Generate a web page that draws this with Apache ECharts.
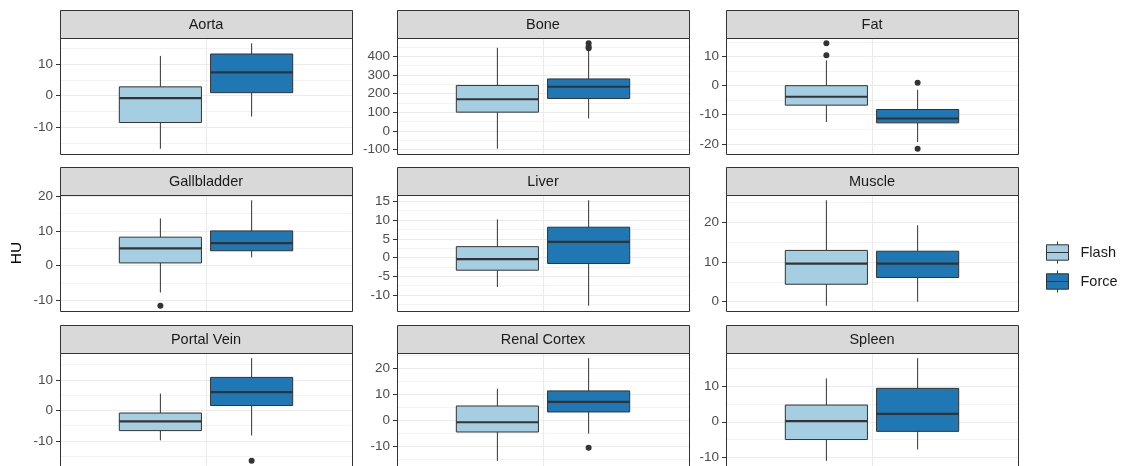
<!DOCTYPE html>
<html><head><meta charset="utf-8">
<script src="https://cdn.jsdelivr.net/npm/echarts@6/dist/echarts.min.js"></script>
<style>html,body{margin:0;padding:0;background:#fff}#chart{width:1124px;height:466px}</style>
</head><body><div id="chart"></div>
<script>
// ---------- data ----------
const panels = ['Aorta', 'Bone', 'Fat', 'Gallbladder', 'Liver', 'Muscle', 'Portal Vein', 'Renal Cortex', 'Spleen'];
const groups = ['Flash', 'Force'];
// [lower whisker, Q1, median, Q3, upper whisker]
const flashStats = [
  [-16.8, -8.5, -0.8, 2.8, 12.6],
  [-95, 101, 170, 244, 446],
  [-12.5, -6.7, -3.8, 0.0, 8.7],
  [-7.7, 0.8, 5.0, 8.2, 13.6],
  [-7.9, -3.4, -0.45, 2.9, 10.2],
  [-1.0, 4.4, 9.6, 12.9, 25.5],
  [-9.8, -6.6, -3.6, -0.85, 5.5],
  [-15.6, -4.5, -0.75, 5.5, 12.1],
  [-11.0, -5.0, 0.2, 4.7, 12.2]
];
const forceStats = [
  [-6.6, 0.95, 7.4, 13.2, 16.6],
  [67, 174, 237, 279, 432],
  [-19.4, -12.8, -11.3, -8.2, -1.4],
  [2.4, 4.3, 6.5, 10.0, 18.8],
  [-12.9, -1.6, 4.2, 8.1, 15.3],
  [0.0, 6.1, 9.6, 12.7, 19.2],
  [-8.2, 1.6, 6.0, 10.8, 17.1],
  [-5.1, 3.2, 7.1, 11.3, 23.9],
  [-7.8, -2.7, 2.2, 9.4, 17.9]
];
const flashOutliers = [[], [], [14.6, 10.5], [-11.5], [], [], [], [], []];
const forceOutliers = [[], [470, 452, 444], [1.0, -21.7], [], [], [], [-16.5], [-10.6], []];
const yTicks = [
  [-10, 0, 10],
  [-100, 0, 100, 200, 300, 400],
  [-20, -10, 0, 10],
  [-10, 0, 10, 20],
  [-10, -5, 0, 5, 10, 15],
  [0, 10, 20],
  [-10, 0, 10],
  [-10, 0, 10, 20],
  [-10, 0, 10]
];
const yStep = [10, 100, 10, 10, 5, 10, 10, 10, 10];
const yTitle = 'HU';

// ---------- layout / style ----------
const COL_LEFT = [60, 397, 726], PANEL_W = 292;
const ROW_TOP = [10, 167, 325], STRIP_H = 28, PANEL_H = 116;
const DODGE = [-0.1875, 0.1875], BOX_W = 0.3375, X_RANGE = [-0.6, 0.6];
const COLORS = ['#A6CEE3', '#1F78B4'];
const INK = '#333333';
const FONT = '"Liberation Sans", Arial, sans-serif';
const KEY_ICON = 'path://M11,0V3.3M0,3.3H22V11H0ZM0,11H22V18.7H0ZM11,18.7V22';

const statsByGroup = [flashStats, forceStats];
const outliersByGroup = [flashOutliers, forceOutliers];

function renderBox(params, api) {
  const x = api.value(0);
  const p = [1, 2, 3, 4, 5].map(d => api.coord([x, api.value(d)]));
  const w = api.size([BOX_W, 0])[0];
  const cx = p[0][0];
  const color = api.visual('color');
  return {
    type: 'group',
    children: [
      { type: 'line', shape: { x1: cx, y1: p[4][1], x2: cx, y2: p[3][1] }, style: { stroke: INK, lineWidth: 1 } },
      { type: 'line', shape: { x1: cx, y1: p[1][1], x2: cx, y2: p[0][1] }, style: { stroke: INK, lineWidth: 1 } },
      { type: 'rect', shape: { x: cx - w / 2, y: p[3][1], width: w, height: p[1][1] - p[3][1] }, style: { fill: color, stroke: INK, lineWidth: 1 } },
      { type: 'line', shape: { x1: cx - w / 2, y1: p[2][1], x2: cx + w / 2, y2: p[2][1] }, style: { stroke: INK, lineWidth: 2.2 } }
    ]
  };
}

const grids = [], xAxes = [], yAxes = [], series = [], graphics = [];
panels.forEach((name, i) => {
  const r = Math.floor(i / 3), c = i % 3;
  const left = COL_LEFT[c], stripTop = ROW_TOP[r], top = stripTop + STRIP_H;
  grids.push({ left, top, width: PANEL_W, height: PANEL_H, show: false });
  xAxes.push({
    gridIndex: i, type: 'value', min: X_RANGE[0], max: X_RANGE[1], interval: 0.6,
    axisLine: { show: false, onZero: false }, axisTick: { show: false }, axisLabel: { show: false },
    splitLine: { show: true, lineStyle: { color: '#EBEBEB', width: 1.1 } }
  });
  let lo = Infinity, hi = -Infinity;
  groups.forEach((g, k) => {
    const s = statsByGroup[k][i];
    lo = Math.min(lo, s[0]); hi = Math.max(hi, s[4]);
    outliersByGroup[k][i].forEach(v => { lo = Math.min(lo, v); hi = Math.max(hi, v); });
  });
  const pad = (hi - lo) * 0.05;
  const yAxis = {
    gridIndex: i, type: 'value', position: 'left', min: lo - pad, max: hi + pad,
    minInterval: yStep[i], maxInterval: yStep[i],
    axisLine: { show: false, onZero: false },
    axisTick: { show: true, length: 4, lineStyle: { color: INK, width: 1 }, customValues: yTicks[i] },
    axisLabel: { customValues: yTicks[i], color: '#4D4D4D', fontSize: 13.5, fontFamily: FONT, margin: 7 },
    splitLine: { show: true, lineStyle: { color: '#EBEBEB', width: 1.1 } },
    minorTick: { show: false, splitNumber: 2 },
    minorSplitLine: { show: true, lineStyle: { color: '#EBEBEB', width: 0.6 } }
  };
  if (i === 3) {
    Object.assign(yAxis, {
      name: yTitle, nameLocation: 'middle', nameRotate: 90, nameGap: 35,
      nameTextStyle: { fontSize: 15.5, color: '#000000', fontFamily: FONT }
    });
  }
  yAxes.push(yAxis);

  groups.forEach((g, k) => {
    series.push({
      name: g, type: 'custom', xAxisIndex: i, yAxisIndex: i, z: 3,
      itemStyle: { color: COLORS[k], borderColor: INK, borderWidth: 1 },
      encode: { x: 0, y: [1, 2, 3, 4, 5] },
      data: [[DODGE[k]].concat(statsByGroup[k][i])],
      renderItem: renderBox
    });
  });
  const outData = [];
  groups.forEach((g, k) => outliersByGroup[k][i].forEach(v => outData.push([DODGE[k], v])));
  series.push({
    name: 'outlier', type: 'scatter', xAxisIndex: i, yAxisIndex: i, z: 4,
    symbol: 'circle', symbolSize: 6, itemStyle: { color: INK, opacity: 1 }, data: outData
  });

  // strip and panel border
  graphics.push({
    type: 'rect', z: 50,
    shape: { x: left + 0.5, y: stripTop + 0.5, width: PANEL_W, height: STRIP_H },
    style: { fill: '#D9D9D9', stroke: INK, lineWidth: 1 }
  });
  graphics.push({
    type: 'text', z: 51, x: left + PANEL_W / 2, y: stripTop + STRIP_H / 2 + 1,
    style: { text: name, fill: '#1A1A1A', font: '14.5px ' + FONT, textAlign: 'center', textVerticalAlign: 'middle' }
  });
  graphics.push({
    type: 'rect', z: 50,
    shape: { x: left + 0.5, y: top + 0.5, width: PANEL_W, height: PANEL_H },
    style: { fill: 'none', stroke: INK, lineWidth: 1 }
  });
});

const chart = echarts.init(document.getElementById('chart'), null, { renderer: 'canvas' });
chart.setOption({
  animation: false,
  backgroundColor: '#ffffff',
  grid: grids, xAxis: xAxes, yAxis: yAxes, series,
  legend: {
    orient: 'vertical', left: 1046, top: 241, padding: 0,
    itemWidth: 22, itemHeight: 22, itemGap: 6, selectedMode: false,
    data: groups.map((g, k) => ({ name: g, icon: KEY_ICON, itemStyle: { color: COLORS[k], borderColor: INK, borderWidth: 1 } })),
    textStyle: { fontSize: 14.5, color: '#1A1A1A', fontFamily: FONT, padding: [0, 0, 0, 7] }
  },
  graphic: { elements: graphics }
});
</script></body></html>
